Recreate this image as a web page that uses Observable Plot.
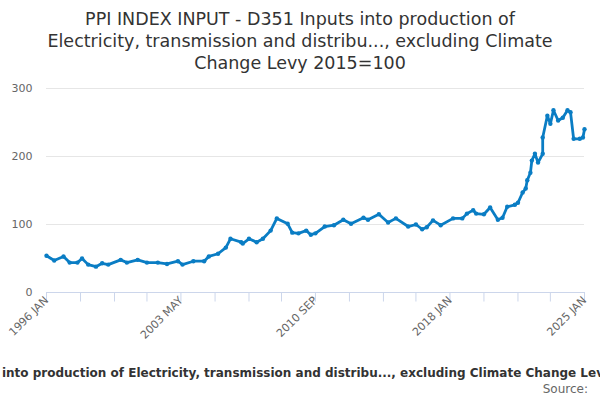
<!DOCTYPE html>
<html><head><meta charset="utf-8">
<script src="https://cdn.jsdelivr.net/npm/d3@7"></script>
<script src="https://cdn.jsdelivr.net/npm/@observablehq/plot@0.6"></script>
<style>
body{margin:0;width:600px;height:400px;overflow:hidden;font-family:"DejaVu Sans",sans-serif;background:#fff}
#title{position:absolute;top:8px;left:0;width:600px;text-align:center;font-size:17.5px;line-height:22px;color:#333}
#chart{position:absolute;top:78px;left:0}
#cap{position:absolute;top:366px;left:300px;transform:translateX(-50%);white-space:nowrap;font-size:12px;font-weight:bold;color:#333}
#src{position:absolute;top:382px;right:12px;font-size:12px;color:#666}
</style></head><body>
<div id="title">PPI INDEX INPUT - D351 Inputs into production of<br>Electricity, transmission and distribu..., excluding Climate<br>Change Levy 2015=100</div>
<div id="chart"></div>
<div id="cap">D351 Inputs into production of Electricity, transmission and distribu..., excluding Climate Change Levy 2015=100</div>
<div id="src">Source:</div>
<script>
const years = [1996.0,1996.38,1996.92,1997.29,1997.67,1997.94,1998.21,1998.64,1999.02,1999.34,1999.99,2000.37,2000.91,2001.44,2001.98,2002.52,2003.06,2003.33,2003.92,2004.46,2004.73,2005.22,2005.65,2005.92,2006.46,2006.62,2006.89,2007.37,2007.70,2008.08,2008.45,2008.99,2009.26,2009.58,2009.96,2010.23,2010.50,2011.04,2011.47,2011.96,2012.39,2013.09,2013.36,2013.90,2014.44,2014.81,2015.51,2015.89,2016.27,2016.54,2016.86,2017.24,2017.89,2018.43,2018.70,2018.96,2019.13,2019.56,2019.88,2020.31,2020.58,2020.85,2021.28,2021.44,2021.66,2021.82,2021.93,2022.09,2022.20,2022.36,2022.52,2022.74,2022.79,2023.01,2023.17,2023.33,2023.60,2023.87,2024.09,2024.25,2024.41,2024.79,2024.89,2025.0];
const values = [54,47,53,44,44,50,41,38,43,41,48,44,48,44,44,42,46,41,46,46,53,57,66,79,74,72,79,74,79,91,109,101,88,87,91,85,87,97,99,107,101,110,107,115,103,109,97,100,93,96,106,99,109,109,116,121,116,115,125,107,110,126,129,132,147,153,165,176,194,204,191,204,228,260,248,268,253,257,268,265,226,226,228,240,232];
const tickLabels = ["1996 JAN","2003 MAY","2010 SEP","2018 JAN","2025 JAN"];
const toDate = y => { const yr = Math.floor(y); const m = Math.round((y-yr)*12); return new Date(Date.UTC(yr, m, 1)); };
const data = years.map((y,i)=>({date:toDate(y), v:values[i]}));
const t0 = new Date(Date.UTC(1996,0,1));
const ticks = d3.range(17).map(i => d3.utcMonth.offset(t0, Math.round(i*21.75)));
const lab = new Map(ticks.filter((d,i)=>i%4===0).map((d,i)=>[+d, tickLabels[i]]));
const chart = Plot.plot({
  width:600, height:290, marginLeft:46, marginRight:16, marginTop:10, marginBottom:76,
  style:{fontFamily:"DejaVu Sans, sans-serif", fontSize:"11px", color:"#666"},
  x:{type:"utc", domain:[t0, new Date(Date.UTC(2025,0,1))]},
  y:{domain:[0,300]},
  marks:[
    Plot.gridY([100,200,300],{stroke:"#e6e6e6", strokeOpacity:1}),
    Plot.axisY([0,100,200,300],{tickSize:0, tickPadding:14, label:null, fill:"#666"}),
    Plot.ruleY([0],{stroke:"#ccd6eb"}),
    Plot.ruleX(ticks,{x:d=>d, y1:0, y2:-14, stroke:"#ccd6eb"}),
    Plot.axisX(ticks,{tickSize:0, tickRotate:-45, tickPadding:6, label:null, fill:"#666", tickFormat:d=>lab.get(+d)||""}),
    Plot.line(data,{x:"date", y:"v", stroke:"#0a7dc4", strokeWidth:2.8}),
    Plot.dot(data,{x:"date", y:"v", r:2.2, fill:"#0a7dc4"})
  ]
});
document.getElementById("chart").append(chart);
</script></body></html>
